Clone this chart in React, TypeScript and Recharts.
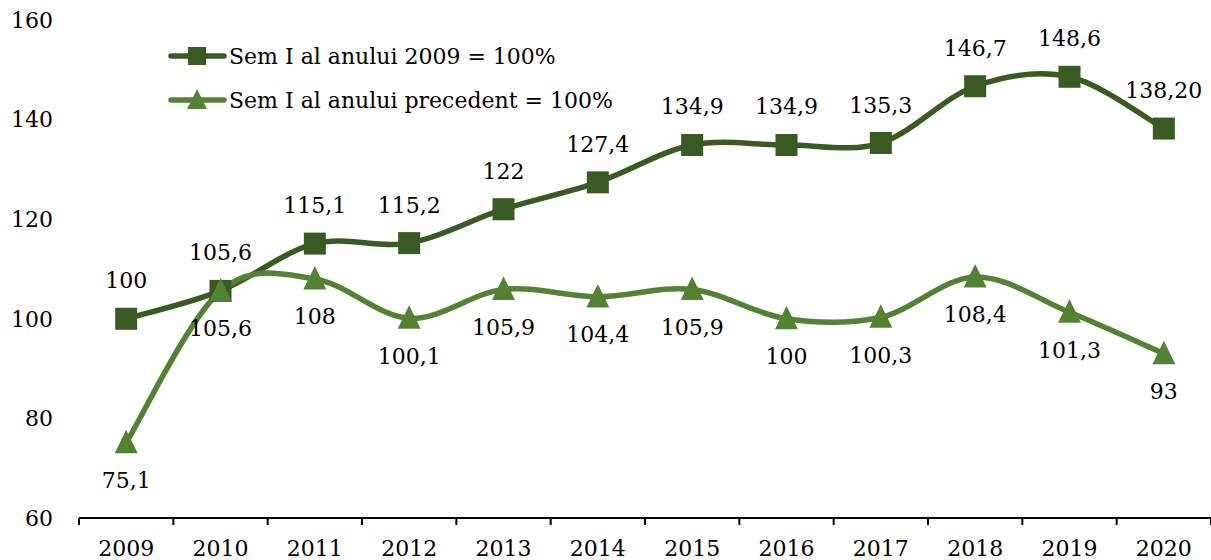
import React from 'react';
import { LineChart, Line, XAxis, YAxis, LabelList } from 'recharts';

const years = ['2009', '2010', '2011', '2012', '2013', '2014', '2015', '2016', '2017', '2018', '2019', '2020'];
const base2009 = [100, 105.6, 115.1, 115.2, 122, 127.4, 134.9, 134.9, 135.3, 146.7, 148.6, 138.2];
const base2009Labels = ['100', '105,6', '115,1', '115,2', '122', '127,4', '134,9', '134,9', '135,3', '146,7', '148,6', '138,20'];
const prevYear = [75.1, 105.6, 108, 100.1, 105.9, 104.4, 105.9, 100, 100.3, 108.4, 101.3, 93];
const prevYearLabels = ['75,1', '105,6', '108', '100,1', '105,9', '104,4', '105,9', '100', '100,3', '108,4', '101,3', '93'];
const yTicks = [60, 80, 100, 120, 140, 160];
const seriesNames = ['Sem I al anului 2009 = 100%', 'Sem I al anului precedent = 100%'];

const data = years.map((y, i) => ({ year: y, a: base2009[i], b: prevYear[i] }));

const W = 1211;
const H = 560;
const PLOT_LEFT = 79;
const STEP = (W - PLOT_LEFT) / years.length;
const DARK = '#3A5A23';
const LIGHT = '#548235';
const FONT = '"DejaVu Serif", serif';

// Catmull-Rom style smoothing (like Excel's smoothed lines)
const smoothCurve: any = (context: any) => {
  let pts: number[][] = [];
  return {
    areaStart() {},
    areaEnd() {},
    lineStart() { pts = []; },
    lineEnd() {
      if (!pts.length) return;
      context.moveTo(pts[0][0], pts[0][1]);
      for (let i = 0; i < pts.length - 1; i++) {
        const p0 = pts[i - 1] || pts[i];
        const p1 = pts[i];
        const p2 = pts[i + 1];
        const p3 = pts[i + 2] || pts[i + 1];
        context.bezierCurveTo(
          p1[0] + (p2[0] - p0[0]) / 6, p1[1] + (p2[1] - p0[1]) / 6,
          p2[0] - (p3[0] - p1[0]) / 6, p2[1] - (p3[1] - p1[1]) / 6,
          p2[0], p2[1]
        );
      }
    },
    point(x: number, y: number) { pts.push([+x, +y]); },
  };
};

const SquareDot = (props: any) => {
  const { cx, cy, index } = props;
  if (cx == null || cy == null) return <g key={index} />;
  return <rect key={index} x={cx - 11} y={cy - 11} width={22} height={22} fill={DARK} />;
};

const TriDot = (props: any) => {
  const { cx, cy, index } = props;
  if (cx == null || cy == null) return <g key={index} />;
  return <polygon key={index} points={`${cx},${cy - 13} ${cx + 11.5},${cy + 10.5} ${cx - 11.5},${cy + 10.5}`} fill={LIGHT} />;
};

const makeLabel = (labels: string[], dy: number) => (props: any) => {
  const { x, y, index } = props;
  return (
    <text x={x} y={y + dy} textAnchor="middle" dominantBaseline="central" fontSize={22} fontFamily={FONT} fill="#000">
      {labels[index]}
    </text>
  );
};

const XTick = (props: any) => {
  const { x, y, payload, index } = props;
  return (
    <g>
      <line x1={x - STEP / 2} x2={x - STEP / 2} y1={y} y2={y + 7} stroke="#000" strokeWidth={2} />
      {index === years.length - 1 && (
        <line x1={x + STEP / 2} x2={x + STEP / 2} y1={y} y2={y + 7} stroke="#000" strokeWidth={2} />
      )}
      <text x={x} y={y + 30} textAnchor="middle" dominantBaseline="central" fontSize={22} fontFamily={FONT} fill="#000">
        {payload.value}
      </text>
    </g>
  );
};

const LegendBox = () => (
  <div style={{ position: 'absolute', top: 34, left: 167, fontFamily: FONT, fontSize: 22, color: '#000' }}>
    {seriesNames.map((name, i) => (
      <div key={name} style={{ display: 'flex', alignItems: 'center', height: 44 }}>
        <svg width={60} height={24} style={{ display: 'block' }}>
          <line x1={4} x2={57} y1={12} y2={12} stroke={i === 0 ? DARK : LIGHT} strokeWidth={5.5} strokeLinecap="round" />
          {i === 0 ? (
            <rect x={21} y={3} width={18} height={18} fill={DARK} />
          ) : (
            <polygon points="30,1 40,21 20,21" fill={LIGHT} />
          )}
        </svg>
        <span style={{ marginLeft: 2, whiteSpace: 'nowrap' }}>{name}</span>
      </div>
    ))}
  </div>
);

export default function App() {
  return (
    <div style={{ position: 'absolute', left: 0, top: 0, width: W, height: H, background: '#fff', fontFamily: FONT }}>
      <LineChart width={W} height={H} data={data} margin={{ top: 20, right: 0, left: 0, bottom: 0 }}>
        <XAxis
          dataKey="year"
          height={42}
          padding={{ left: STEP / 2, right: STEP / 2 }}
          axisLine={{ stroke: '#000', strokeWidth: 2 }}
          tickLine={false}
          tickSize={0}
          tickMargin={0}
          interval={0}
          tick={<XTick />}
        />
        <YAxis
          domain={[60, 160]}
          ticks={yTicks}
          width={PLOT_LEFT}
          axisLine={false}
          tickLine={false}
          tickSize={0}
          tickMargin={26}
          tick={{ fill: '#000', fontSize: 22, fontFamily: FONT }}
        />
        <Line
          dataKey="a"
          name={seriesNames[0]}
          type={smoothCurve}
          stroke={DARK}
          strokeWidth={5.5}
          dot={SquareDot}
          activeDot={false}
          isAnimationActive={false}
        >
          <LabelList dataKey="a" content={makeLabel(base2009Labels, -38)} />
        </Line>
        <Line
          dataKey="b"
          name={seriesNames[1]}
          type={smoothCurve}
          stroke={LIGHT}
          strokeWidth={5.5}
          dot={TriDot}
          activeDot={false}
          isAnimationActive={false}
        >
          <LabelList dataKey="b" content={makeLabel(prevYearLabels, 38)} />
        </Line>
      </LineChart>
      <LegendBox />
    </div>
  );
}
